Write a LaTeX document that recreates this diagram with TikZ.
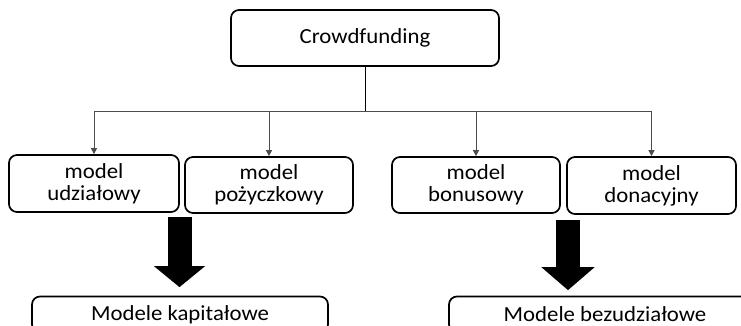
\documentclass[tikz,border=0pt]{standalone}
\usepackage{fontspec}
\setmainfont{Carlito}[FakeStretch=1.06]
\usetikzlibrary{arrows.meta}

\begin{document}
\begin{tikzpicture}[x=1pt,y=-1pt,
  box/.style={draw, line width=1.7pt, rounded corners=8pt, align=center,
    font=\fontsize{21.5}{22}\selectfont, inner sep=0pt},
  link/.style={draw=black!70, line width=0.8pt, -{Triangle[width=6pt,length=6pt]}},
  fat/.style={line width=24pt, -{Triangle[width=50pt,length=21pt]}}]
  \useasboundingbox (0,0) rectangle (741,326);
  \clip (0,0) rectangle (741,326);
  \node[box, minimum width=268pt, minimum height=56pt] (crowd) at (365,38) {Crowdfunding};
  \node[box, minimum width=170pt, minimum height=57pt] (udz) at (94,183.5) {model\\udziałowy};
  \node[box, minimum width=168pt, minimum height=56pt] (poz) at (269,185) {model\\pożyczkowy};
  \node[box, minimum width=168pt, minimum height=56pt] (bon) at (476,185) {model\\bonusowy};
  \node[box, minimum width=169pt, minimum height=57pt] (don) at (651.5,185.5) {model\\donacyjny};
  \node[box, minimum width=296pt, minimum height=36pt] (kap) at (180,314.5) {Modele kapitałowe};
  \node[box, minimum width=312pt, minimum height=36pt] (bez) at (605,314.5) {Modele bezudziałowe};
  % connectors
  \coordinate (bus) at (365,111);
  \draw[line width=0.8pt] (crowd.south) -- (bus);
  \foreach \n in {udz,poz,bon,don}
    \draw[link] (bus) -| (\n.north);
  \coordinate (kapin) at (179.5,217);
  \coordinate (bezin) at (568,220);
  \draw[fat] (kapin) -- (kapin |- kap.north) [shorten >=8.5pt];
  \draw[fat, -{Triangle[width=52pt,length=23pt]}] (bezin) -- (bezin |- bez.north) [shorten >=5.5pt];
\end{tikzpicture}
\end{document}
